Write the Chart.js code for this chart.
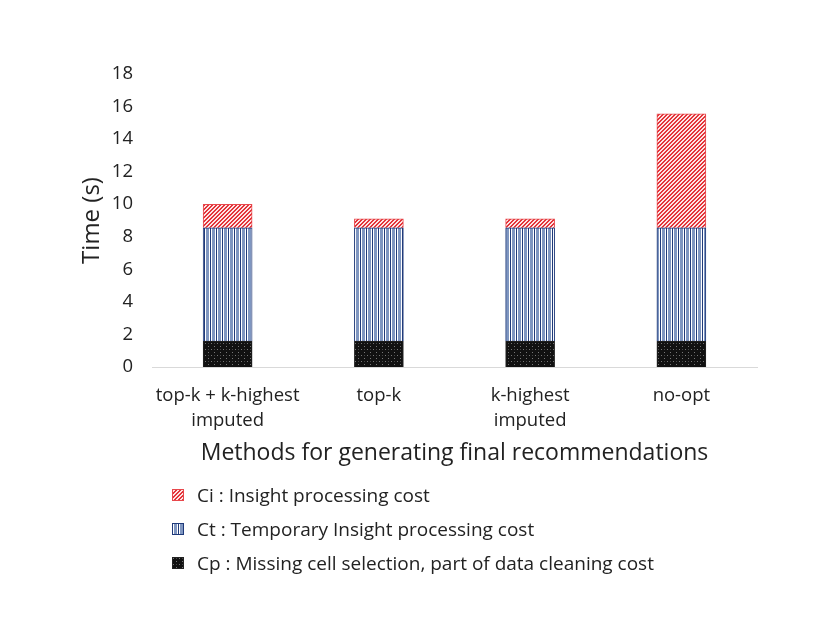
<!DOCTYPE html>
<html>
<head>
<meta charset="utf-8">
<script src="https://cdn.jsdelivr.net/npm/chart.js@4.4.0/dist/chart.umd.min.js"></script>
<style>
  html, body { margin:0; padding:0; background:#fff; }
  #wrap { position:relative; width:830px; height:642px; }
  #legend { position:absolute; left:172px; top:478px; font-family:'Open Sans', sans-serif; font-size:19px; color:#222; }
  .lg-row { display:flex; align-items:center; height:34px; }
  .lg-row canvas { margin-right:13px; }
</style>
</head>
<body>
<div id="wrap">
  <canvas id="chart" width="830" height="642"></canvas>
  <div id="legend"></div>
</div>
<script>
const categories = [['top-k + k-highest', 'imputed'], 'top-k', ['k-highest', 'imputed'], 'no-opt'];
const cpValues = [1.6, 1.6, 1.6, 1.6];
const ctValues = [6.95, 6.95, 6.95, 6.95];
const ciValues = [1.45, 0.55, 0.55, 7.0];
const seriesLabels = [
  'Ci : Insight processing cost',
  'Ct : Temporary Insight processing cost',
  'Cp : Missing cell selection, part of data cleaning cost'
];

// fill patterns, roughly like the office ones
function hatchPattern() {
  const c = document.createElement('canvas');
  c.width = 4; c.height = 4;
  const g = c.getContext('2d');
  for (let y = 0; y < 4; y++) {
    for (let x = 0; x < 4; x++) {
      g.fillStyle = ((x + y) % 4 < 2) ? '#e3343a' : '#fde4e4';
      g.fillRect(x, y, 1, 1);
    }
  }
  return g.createPattern(c, 'repeat');
}
function stripePattern() {
  const c = document.createElement('canvas');
  c.width = 6; c.height = 1;
  const g = c.getContext('2d');
  const cols = ['#1f3a7a', '#ffffff', '#7f96c0', '#7f96c0', '#7f96c0', '#ffffff'];
  cols.forEach((col, i) => { g.fillStyle = col; g.fillRect(i, 0, 1, 1); });
  return g.createPattern(c, 'repeat');
}
function dotPattern() {
  const c = document.createElement('canvas');
  c.width = 6; c.height = 6;
  const g = c.getContext('2d');
  g.fillStyle = '#111'; g.fillRect(0, 0, 6, 6);
  g.fillStyle = '#777'; g.fillRect(1, 1, 1, 1); g.fillRect(4, 4, 1, 1);
  g.fillStyle = '#444'; g.fillRect(4, 1, 1, 1);
  return g.createPattern(c, 'repeat');
}

const fills = [hatchPattern(), stripePattern(), dotPattern()];
const borders = ['#e8484c', '#1f3a7a', '#222'];

new Chart(document.getElementById('chart'), {
  type: 'bar',
  data: {
    labels: categories,
    datasets: [
      {label: seriesLabels[2], data: cpValues, backgroundColor: fills[2], borderColor: borders[2], borderWidth: 1},
      {label: seriesLabels[1], data: ctValues, backgroundColor: fills[1], borderColor: borders[1], borderWidth: 1},
      {label: seriesLabels[0], data: ciValues, backgroundColor: fills[0], borderColor: borders[0], borderWidth: 1},
    ]
  },
  options: {
    responsive: false,
    animation: false,
    layout: {padding: {top: 74, right: 73, bottom: 0, left: 0}},
    datasets: {bar: {barThickness: 49}},
    plugins: {legend: {display: false}, tooltip: {enabled: false}},
    scales: {
      x: {
        stacked: true,
        grid: {display: false, drawTicks: false},
        border: {color: '#d9d9d9', width: 1},
        ticks: {color: '#222', font: {family: 'Open Sans', size: 18.5, lineHeight: 1.32}, padding: 17, maxRotation: 0, autoSkip: false},
        title: {display: true, text: 'Methods for generating final recommendations', color: '#222',
                font: {family: 'Open Sans', size: 23}, padding: {top: 0, bottom: 175}},
        afterFit: s => { s.height = 275; }
      },
      y: {
        stacked: true,
        min: 0, max: 18,
        grid: {display: false, drawTicks: false},
        border: {display: false},
        ticks: {stepSize: 2, color: '#222', font: {family: 'Open Sans', size: 18.5}, padding: 19},
        title: {display: true, text: 'Time (s)', color: '#222',
                font: {family: 'Open Sans', size: 24}, padding: {top: 78, bottom: 0}},
        afterFit: s => { s.width = 152; }
      }
    }
  }
});

// legend, stacked vertically as in the original
const legend = document.getElementById('legend');
seriesLabels.forEach((txt, i) => {
  const row = document.createElement('div');
  row.className = 'lg-row';
  const sw = document.createElement('canvas');
  sw.width = 12; sw.height = 12;
  const g = sw.getContext('2d');
  g.fillStyle = fills[i]; g.fillRect(0, 0, 12, 12);
  g.strokeStyle = borders[i]; g.strokeRect(0.5, 0.5, 11, 11);
  row.appendChild(sw);
  const sp = document.createElement('span');
  sp.textContent = txt;
  row.appendChild(sp);
  legend.appendChild(row);
});
</script>
</body>
</html>
